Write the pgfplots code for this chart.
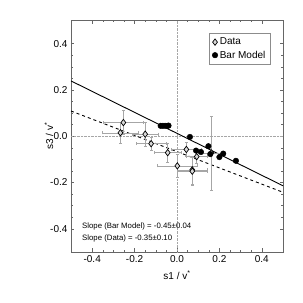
\documentclass[border=0pt]{standalone}
\usepackage{pgfplots}
\pgfplotsset{compat=1.18}
\usepackage{fontspec}
\setmainfont{Liberation Sans}
\begin{document}
\begin{tikzpicture}[x=1pt,y=1pt]
\path[use as bounding box] (0,0) rectangle (303,303);
\begin{axis}[
  at={(71pt,51pt)}, anchor=south west,
  width=212pt, height=231.5pt, scale only axis,
  xmin=-0.5, xmax=0.5, ymin=-0.5, ymax=0.5,
  xtick={-0.4,-0.2,0,0.2,0.4}, ytick={-0.4,-0.2,0,0.2,0.4},
  minor tick num=3,
  tick align=inside,
  major tick length=3.5pt, minor tick length=2pt,
  axis line style={black!60, line width=0.5pt},
  every tick/.style={black!60, line width=0.4pt},
  /pgf/number format/assume math mode=true,
  /pgf/number format/fixed, /pgf/number format/fixed zerofill, /pgf/number format/precision=1,
  tick label style={font=\fontsize{10}{11}\selectfont},
  xlabel={s1 / v\textsuperscript{*}}, ylabel={s3 / v\textsuperscript{*}},
  label style={font=\fontsize{10}{11}\selectfont},
  xlabel style={at={(axis description cs:0.5,-0.099)}, anchor=center},
  ylabel style={at={(axis description cs:-0.104,0.5)}, anchor=center},
  legend style={at={(0.651,0.945)}, anchor=north west, draw=black!45, font=\fontsize{10}{12}\selectfont, inner xsep=3pt, inner ysep=2.5pt, row sep=0.5pt, legend cell align=left},
  clip=false,
]
\draw[densely dotted, black!35, line width=0.4pt] (axis cs:0,-0.5) -- (axis cs:0,0.5);
\draw[densely dotted, black!35, line width=0.4pt] (axis cs:-0.5,0) -- (axis cs:0.5,0);
% fit lines
\addplot[black, line width=0.9pt, forget plot] coordinates {(-0.5,0.239) (0.5,-0.214)};
\addplot[black, line width=0.9pt, dashed, forget plot] coordinates {(-0.5,0.109) (0.5,-0.242)};
% data with error bars
\addplot[only marks, mark=diamond*, mark size=3.2pt,
  mark options={draw=black, fill=black!15, line width=0.7pt},
  error bars/.cd, x dir=both, y dir=both, x explicit, y explicit,
  error bar style={black!35, line width=0.5pt},
  error mark options={rotate=90, mark size=1.5pt, black!35}]
  coordinates {
  (-0.253,0.059) +- (0.094,0.052)
  (-0.267,0.015) +- (0.085,0.047)
  (-0.150,0.009) +- (0.063,0.050)
  (-0.122,-0.032) +- (0.070,0.030)
  (-0.044,-0.071) +- (0.065,0.040)
  (0.0015,-0.128) +- (0.095,0.050)
  (0.044,-0.057) +- (0.070,0.030)
  (0.072,-0.145) +- (0.070,0.060)
  (0.072,-0.151) +- (0.070,0.060)
  (0.093,-0.088) +- (0.050,0.030)
  (0.162,-0.072) +- (0.060,0.160)
  };
\addlegendentry{Data}
% bar model
\addplot[only marks, mark=*, mark size=2.8pt, mark options={draw=black, fill=black}]
  coordinates {
  (-0.077,0.045) (-0.067,0.045) (-0.056,0.045) (-0.045,0.045) (-0.040,0.046)
  (0.061,-0.003) (0.090,-0.062) (0.113,-0.068) (0.148,-0.043)
  (0.157,-0.077) (0.200,-0.090) (0.218,-0.075) (0.278,-0.106)
  };
\addlegendentry{Bar Model}
\node[anchor=west, font=\fontsize{7.8}{9}\selectfont, inner sep=0pt] at (axis cs:-0.448,-0.391) {Slope (Bar Model) = -0.45±0.04};
\node[anchor=west, font=\fontsize{7.8}{9}\selectfont, inner sep=0pt] at (axis cs:-0.448,-0.443) {Slope (Data) = -0.35±0.10};
\end{axis}
\end{tikzpicture}
\end{document}
